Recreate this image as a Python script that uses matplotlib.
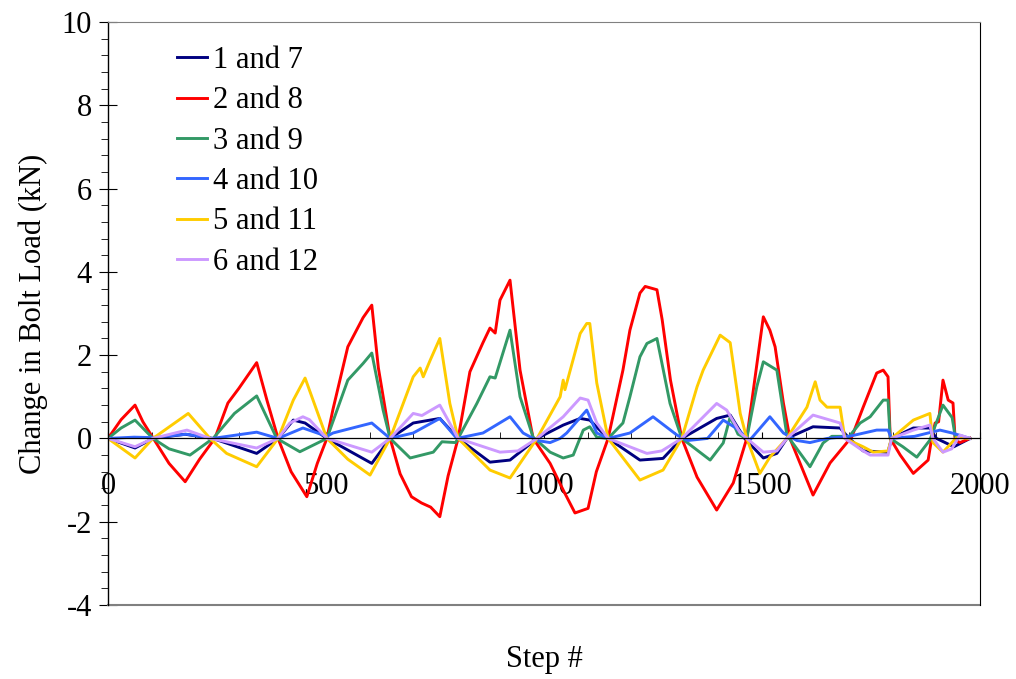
import matplotlib
matplotlib.use("Agg")
import matplotlib.pyplot as plt
from matplotlib.ticker import MultipleLocator

labels = ["1 and 7", "2 and 8", "3 and 9", "4 and 10", "5 and 11", "6 and 12"]
colors = ["#000080", "#FF0000", "#339966", "#3366FF", "#FFCC00", "#CC99FF"]

navy_x = [0, 62, 103, 177, 240, 341, 390, 425, 452, 502, 605, 647, 700, 761, 803, 876, 922, 984,
          1044, 1083, 1105, 1147, 1220, 1273, 1316, 1396, 1427, 1460, 1503, 1534, 1557, 1617, 1679,
          1700, 1732, 1789, 1797, 1847, 1885, 1900, 1940, 1977]
navy_y = [0, -0.23, 0, 0.1, 0, -0.36, 0, 0.44, 0.37, 0, -0.6, 0, 0.37, 0.48, 0, -0.57, -0.52, 0,
          0.32, 0.48, 0.44, 0, -0.52, -0.48, 0, 0.48, 0.56, 0, -0.47, -0.36, 0, 0.28, 0.25,
          0, -0.3, -0.33, 0, 0.25, 0.25, 0, -0.2, 0]

red_x = [0, 30, 62, 80, 104, 140, 177, 210, 245, 275, 300, 341, 365, 390, 420, 456, 480, 502, 516, 550,
         585, 605, 620, 647, 670, 696, 719, 740, 761, 780, 803, 830, 860, 876, 888, 899, 922, 945, 975, 1014,
         1044, 1071, 1101, 1120, 1147, 1181, 1197, 1220, 1232, 1259, 1271, 1290, 1316, 1351, 1396, 1434,
         1465, 1503, 1518, 1530, 1549, 1564, 1617, 1656, 1694, 1706, 1732, 1763, 1778, 1789, 1794,
         1817, 1847, 1881, 1889, 1897, 1905, 1915, 1927, 1938, 1943, 1954, 1977]
red_y = [0, 0.45, 0.8, 0.4, 0, -0.6, -1.04, -0.5, 0, 0.85, 1.2, 1.82, 0.9, 0, -0.8, -1.4, -0.6, 0, 0.7, 2.2,
         2.9, 3.2, 1.7, 0, -0.85, -1.4, -1.55, -1.65, -1.88, -0.9, 0, 1.6, 2.3, 2.65, 2.53, 3.32, 3.8, 1.64, 0, -0.6,
         -1.24, -1.79, -1.68, -0.8, 0, 1.64, 2.6, 3.49, 3.65, 3.57, 2.85, 1.4, 0, -0.93, -1.72, -1.07,
         0, 2.92, 2.6, 2.2, 0.85, 0, -1.36, -0.59, -0.11, 0.04, 0.75, 1.57, 1.64, 1.48, 0,
         -0.4, -0.84, -0.52, 0, 0.37, 0.4, 1.4, 0.92, 0.85, -0.04, -0.1, 0]

green_x = [0, 30, 62, 103, 140, 188, 241, 290, 341, 387, 440, 502, 550, 585, 605, 631, 647, 693, 746, 766,
           797, 803, 846, 876, 888, 922, 945, 975, 1014, 1044, 1067, 1090, 1105, 1121, 1147, 1181, 1197, 1220,
           1236, 1259, 1289, 1316, 1381, 1411, 1427, 1445, 1465, 1488, 1503, 1534, 1557, 1610, 1640, 1660,
           1700, 1725, 1748, 1778, 1789, 1794, 1823, 1855, 1885, 1897, 1915, 1936, 1943, 1977]
green_y = [0, 0.25, 0.44, 0, -0.25, -0.4, 0, 0.6, 1.02, 0, -0.32, 0, 1.4, 1.8, 2.05, 0.68, 0, -0.47, -0.33, -0.08,
           -0.1, 0, 0.84, 1.48, 1.45, 2.6, 1.0, 0.03, -0.33, -0.47, -0.4, 0.2, 0.28, 0.03, 0, 0.37, 1.0, 1.96,
           2.28, 2.4, 0.84, 0, -0.52, -0.11, 0.52, 0.1, 0, 1.24, 1.84, 1.64, 0.08, -0.68, -0.11, 0.05,
           0.05, 0.37, 0.52, 0.92, 0.92, 0, -0.2, -0.45, -0.04, 0.3, 0.8, 0.5, 0.05, 0]

blue_x = [0, 60, 100, 180, 240, 341, 390, 447, 502, 516, 605, 647, 700, 761, 800, 860, 922, 952, 984,
          1014, 1037, 1052, 1098, 1121, 1147, 1197, 1250, 1305, 1330, 1375, 1411, 1440, 1472, 1518,
          1549, 1580, 1610, 1650, 1700, 1763, 1789, 1797, 1850, 1908, 1936, 1977]
blue_y = [0, 0.03, 0.02, 0.1, 0, 0.15, 0, 0.25, 0.05, 0.13, 0.37, 0, 0.13, 0.48, 0, 0.13, 0.52, 0.13, -0.05,
          -0.1, 0, 0.13, 0.68, 0.13, 0, 0.13, 0.52, 0.08, -0.05, 0, 0.44, 0.25, -0.04, 0.52,
          0.13, -0.05, -0.1, 0, 0.05, 0.2, 0.2, 0, 0.05, 0.2, 0.13, 0]

yellow_x = [0, 62, 103, 184, 234, 272, 341, 390, 425, 452, 502, 550, 601, 647, 700, 716, 723, 739, 761,
            784, 803, 876, 922, 984, 1037, 1044, 1048, 1083, 1098, 1105, 1121, 1147, 1220, 1273, 1316,
            1351, 1365, 1404, 1427, 1450, 1465, 1495, 1518, 1557, 1603, 1622, 1633, 1649, 1679, 1690, 1732,
            1755, 1789, 1797, 1847, 1885, 1892, 1915, 1946, 1977]
yellow_y = [0, -0.47, 0, 0.6, 0, -0.36, -0.68, 0, 0.92, 1.45, 0, -0.5, -0.88, 0, 1.48, 1.69, 1.48, 1.88, 2.4,
            0.84, 0, -0.76, -0.95, 0, 1.0, 1.4, 1.17, 2.52, 2.76, 2.76, 1.33, 0, -1.0, -0.76, 0,
            1.24, 1.64, 2.48, 2.3, 0.6, 0, -0.84, -0.45, 0, 0.75, 1.36, 0.92, 0.75, 0.75, 0, -0.2,
            -0.33, -0.3, 0, 0.44, 0.6, -0.1, -0.33, 0.02, 0]

purple_x = [0, 62, 103, 181, 234, 341, 390, 417, 447, 462, 502, 605, 647, 700, 720, 761, 803, 899, 940,
            984, 1044, 1083, 1101, 1121, 1147, 1236, 1270, 1316, 1396, 1419, 1450, 1465, 1503, 1534,
            1557, 1617, 1679, 1690, 1732, 1748, 1789, 1797, 1847, 1885, 1892, 1915, 1935, 1954, 1977]
purple_y = [0, -0.2, 0, 0.2, 0, -0.23, 0, 0.37, 0.52, 0.45, 0, -0.33, 0, 0.6, 0.55, 0.8, 0, -0.33, -0.3,
            0, 0.52, 0.97, 0.92, 0.37, 0, -0.36, -0.3, 0, 0.84, 0.68, 0.13, 0, -0.33, -0.3,
            0, 0.56, 0.37, 0, -0.3, -0.4, -0.4, 0, 0.2, 0.32, 0, -0.33, -0.25, 0.08, 0]

series = [(navy_x, navy_y), (red_x, red_y), (green_x, green_y),
          (blue_x, blue_y), (yellow_x, yellow_y), (purple_x, purple_y)]

plt.rcParams['font.family'] = ['Liberation Serif', 'DejaVu Serif']
plt.rcParams['axes.unicode_minus'] = False

FS = 22

fig = plt.figure(figsize=(10.16, 6.79), dpi=100)
ax = fig.add_axes([0.1063, 0.1090, 0.8583, 0.8586])

for (xs, ys), lab, col in zip(series, labels, colors):
    ax.plot(xs, ys, color=col, lw=2.1, label=lab, solid_joinstyle='round')

ax.set_xlim(0, 2000)
ax.set_ylim(-4, 10)

ax.spines['bottom'].set_position(('data', 0))
ax.spines['bottom'].set_linewidth(0.9)
ax.spines['left'].set_color('black')
ax.spines['left'].set_linewidth(1.0)
ax.spines['top'].set_color('#808080')
ax.spines['right'].set_color('black')
ax.axhline(-4, color='#808080', lw=1.5, clip_on=False)

ax.xaxis.set_major_locator(MultipleLocator(500))
ax.xaxis.set_minor_locator(MultipleLocator(100))
ax.yaxis.set_major_locator(MultipleLocator(2))
ax.yaxis.set_minor_locator(MultipleLocator(0.4))

ax.tick_params(axis='x', which='major', direction='in', length=4, pad=24, labelsize=FS)
ax.tick_params(axis='x', which='minor', direction='in', length=4)
ax.tick_params(axis='y', which='major', direction='inout', length=13, pad=5, labelsize=FS)
ax.tick_params(axis='y', which='minor', direction='out', length=5)

ax.set_ylabel("Change in Bolt Load (kN)", fontsize=FS, labelpad=10)
ax.set_xlabel("Step #", fontsize=FS)
ax.xaxis.set_label_coords(0.5, -0.068)

ax.legend(loc='upper left', bbox_to_anchor=(0.058, 0.99), frameon=False, fontsize=FS,
          handlelength=1.0, handletextpad=0.18, labelspacing=0.37, borderaxespad=0.2)

fig.savefig("out.png", dpi=100)
